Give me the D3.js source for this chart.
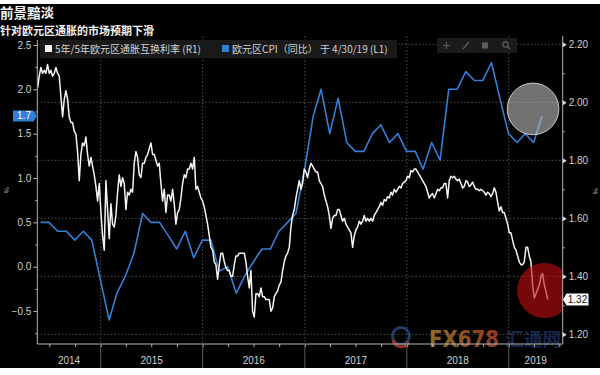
<!DOCTYPE html>
<html><head><meta charset="utf-8">
<script src="https://cdn.jsdelivr.net/npm/d3@7"></script>
<style>html,body{margin:0;padding:0;background:#fff;} svg{display:block;}</style>
</head><body>
<svg id="chart" width="600" height="375"></svg>
<script>
// ---------- DATA ----------
const titleText = "前景黯淡";
const subtitleText = "针对欧元区通胀的市场预期下滑";
const legendLabels = ["5年/5年欧元区通胀互换利率 (R1)", "欧元区CPI（同比） 于 4/30/19 (L1)"];
const years = [2014, 2015, 2016, 2017, 2018, 2019];
const leftTicks = [-0.5, 0, 0.5, 1, 1.5, 2, 2.5];
const rightTicks = [1.2, 1.4, 1.6, 1.8, 2.0, 2.2];
const lastCpi = 1.7;
const lastSwap = 1.32;

// Euro area CPI YoY, monthly from 2014-05 to 2019-04 (left axis)
const cpiStartMonth = "2014-05";
const cpiValues = [
  0.5, 0.5, 0.4, 0.4, 0.3, 0.4, 0.3, -0.15,
  -0.6, -0.3, -0.1, 0.15, 0.6, 0.5, 0.5, 0.35, 0.2, 0.4, 0.1, 0.3,
  0.3, -0.05, 0.0, -0.3, -0.1, 0.05, 0.2, 0.2, 0.4, 0.5, 0.6, 1.1,
  1.7, 2.0, 1.5, 1.9, 1.4, 1.3, 1.3, 1.5, 1.6, 1.4, 1.5, 1.3,
  1.3, 1.1, 1.4, 1.2, 2.0, 2.0, 2.2, 2.1, 2.1, 2.3, 1.9, 1.5,
  1.4, 1.5, 1.4, 1.7
];

// 5y5y euro inflation swap, evenly spaced readings 2014-05-20 .. 2019-05-20 (right axis)
const swapStart = "2014-05-20";
const swapEnd = "2019-05-20";
const swapValues = [
  2.05,2.09,2.12,2.10,2.11,2.10,2.13,2.10,2.11,2.09,
  2.10,2.12,2.10,2.09,2.02,1.95,2.01,2.04,2.01,1.95,
  1.93,1.93,1.90,1.89,1.83,1.73,1.82,1.86,1.85,1.88,
  1.82,1.78,1.81,1.78,1.75,1.71,1.66,1.72,1.62,1.54,
  1.49,1.73,1.63,1.53,1.65,1.58,1.57,1.61,1.69,1.75,
  1.71,1.74,1.72,1.63,1.69,1.68,1.70,1.69,1.79,1.83,
  1.81,1.75,1.74,1.79,1.79,1.81,1.82,1.84,1.86,1.82,
  1.82,1.80,1.78,1.79,1.72,1.66,1.70,1.62,1.68,1.68,
  1.66,
  1.70,1.65,1.58,1.62,1.63,1.67,1.72,1.75,1.74,1.77,
  1.77,1.79,1.77,1.81,1.70,1.71,1.69,1.67,1.66,1.64,
  1.61,1.58,1.54,1.50,1.49,1.45,1.44,1.39,1.44,1.48,
  1.48,1.45,1.43,1.42,1.42,1.40,1.40,1.44,1.47,1.47,
  1.48,1.48,1.48,1.48,1.45,1.40,1.36,1.42,1.28,1.26,
  1.34,1.34,1.33,1.36,1.33,1.33,1.32,1.32,1.32,1.28,
  1.29,1.33,1.34,1.35,1.37,1.38,1.42,1.45,1.47,1.48,
  1.50,1.57,1.61,1.63,1.67,1.70,1.73,
  1.70,1.72,1.77,1.76,1.74,1.77,1.79,1.78,1.77,1.76,
  1.76,1.73,1.72,1.71,1.68,1.66,1.64,1.61,1.565,1.60,
  1.61,1.61,1.63,1.63,1.61,1.59,1.60,1.58,1.57,1.56,
  1.55,1.50,1.54,1.56,1.57,1.59,1.58,1.59,1.61,1.59,
  1.60,1.59,1.60,1.59,1.61,1.62,1.63,1.64,1.655,1.645,
  1.665,1.66,1.675,1.67,1.69,1.68,1.70,1.69,1.70,1.71,
  1.705,1.72,1.725,1.73,1.745,1.74,1.765,1.76,1.77,1.77,
  1.76,1.75,1.74,1.73,1.72,1.71,1.69,1.67,
  1.68,1.685,1.67,1.685,1.70,1.695,1.705,1.705,1.72,1.72,
  1.67,1.73,1.745,1.74,1.745,1.735,1.73,1.735,1.72,1.705,
  1.71,1.73,1.725,1.71,1.715,1.725,1.71,1.70,1.70,1.695,
  1.70,1.695,1.69,1.68,1.69,1.685,1.675,1.685,1.705,1.69,
  1.657,1.625,1.64,1.62,1.62,1.60,1.58,1.55,1.55,1.525,
  1.50,1.49,1.47,1.45,1.44,1.44,1.45,1.50,1.50,1.47,
  1.45,1.37,1.325,1.34,1.355,1.37,1.40,1.41,1.37,1.35,
  1.32
];

// ---------- BUILD ----------
const parse = d3.timeParse("%Y-%m-%d");
const parseM = d3.timeParse("%Y-%m");
const cpiData = cpiValues.map((v, i) => ({
  date: d3.timeDay.offset(d3.timeMonth.offset(parseM(cpiStartMonth), i + 1), -1), value: v }));
const s0 = parse(swapStart), s1 = parse(swapEnd);
const swapData = swapValues.map((v, i) => ({
  date: new Date(+s0 + (s1 - s0) * i / (swapValues.length - 1)), value: v }));

const W = 600, H = 375;
const L = 37.3, R = 562.7, T = 36, B = 344;
const svg = d3.select("#chart");
const font = "'Liberation Sans', Arial, sans-serif";
const cjk = "'Noto Sans CJK SC', 'Liberation Sans', sans-serif";

svg.append("rect").attr("x", 0).attr("y", 0).attr("width", W).attr("height", H).attr("fill", "#fff");
svg.append("rect").attr("x", 0).attr("y", 4).attr("width", W).attr("height", 364).attr("fill", "#000");

const x = d3.scaleTime().domain([parse("2014-05-19"), parse("2019-07-13")]).range([L, R]);
const yL = d3.scaleLinear().domain([-0.8715, 2.601]).range([B, T]);
const yR = d3.scaleLinear().domain([1.1667, 2.2286]).range([B, T]);

// gridlines
const grid = svg.append("g");
grid.selectAll("line.h").data(rightTicks).join("line")
  .attr("x1", L).attr("x2", R).attr("y1", d => yR(d)).attr("y2", d => yR(d))
  .attr("stroke", "#505050").attr("stroke-width", 1).attr("stroke-dasharray", "1.5,2");
const yearStarts = years.slice(1).map(y => new Date(y, 0, 1));
grid.selectAll("line.v").data(yearStarts).join("line")
  .attr("x1", d => x(d)).attr("x2", d => x(d)).attr("y1", T).attr("y2", B)
  .attr("stroke", "#505050").attr("stroke-width", 1).attr("stroke-dasharray", "1.5,2");

// title
svg.append("text").attr("x", 0).attr("y", 17.5).text(titleText)
  .attr("font-family", cjk).attr("font-size", 13.5).attr("font-weight", "bold").attr("fill", "#f2f2f2");
svg.append("text").attr("x", 0).attr("y", 34.5).text(subtitleText)
  .attr("font-family", cjk).attr("font-size", 11).attr("font-weight", "bold").attr("fill", "#f2f2f2");

// watermark (behind the data)
const defs = svg.append("defs");
const gr = defs.append("linearGradient").attr("id", "wm").attr("x1", "0").attr("x2", "1").attr("y1", "0").attr("y2", "0");
gr.append("stop").attr("offset", "0%").attr("stop-color", "#b8902e");
gr.append("stop").attr("offset", "100%").attr("stop-color", "#c44a2a");
const wm = svg.append("g").attr("opacity", 0.75);
wm.append("circle").attr("cx", 401).attr("cy", 336).attr("r", 8.5).attr("fill", "none").attr("stroke", "#2c4f8a").attr("stroke-width", 3);
wm.append("path").attr("d", "M393,340 A8.5,8.5 0 0,0 409,342").attr("fill", "none").attr("stroke", "#c0442a").attr("stroke-width", 3);
wm.append("text").attr("x", 429).attr("y", 347).text("FX678")
  .attr("font-family", "'DejaVu Sans', sans-serif").attr("font-weight", "bold").attr("font-size", 23)
  .attr("textLength", 70).attr("lengthAdjust", "spacingAndGlyphs").attr("fill", "url(#wm)");
wm.append("text").attr("x", 505).attr("y", 346).text("汇通网")
  .attr("font-family", cjk).attr("font-weight", "bold").attr("font-size", 18)
  .attr("textLength", 56).attr("lengthAdjust", "spacingAndGlyphs").attr("fill", "#1f3d74").attr("opacity", 0.85);

// clip
svg.append("clipPath").attr("id", "plotclip").append("rect")
  .attr("x", L).attr("y", T).attr("width", R - L).attr("height", B - T);
const plot = svg.append("g").attr("clip-path", "url(#plotclip)");

// lines
plot.append("path").datum(cpiData)
  .attr("d", d3.line().x(d => x(d.date)).y(d => yL(d.value)))
  .attr("fill", "none").attr("stroke", "#2f80d6").attr("stroke-width", 1.6).attr("stroke-linejoin", "round");
plot.append("path").datum(swapData)
  .attr("d", d3.line().x(d => x(d.date)).y(d => yR(d.value)))
  .attr("fill", "none").attr("stroke", "#f4f4f4").attr("stroke-width", 1.5).attr("stroke-linejoin", "round");

// highlight circles
const lastC = cpiData[cpiData.length - 1], lastS = swapData[swapData.length - 1];
plot.append("circle").attr("cx", x(lastC.date) - 9).attr("cy", yL(lastC.value) - 7).attr("r", 25.8)
  .attr("fill", "rgba(190,190,190,0.6)").attr("stroke", "#c8c8c8").attr("stroke-width", 1);
plot.append("circle").attr("cx", x(lastS.date) - 3).attr("cy", yR(lastS.value) - 9).attr("r", 27.5)
  .attr("fill", "rgba(200,12,16,0.6)");

// axes
const axisColor = "#b4b4b4", labColor = "#cfcfcf";
function styleAxis(g) {
  g.select(".domain").remove();
  g.selectAll("line").attr("stroke", axisColor);
  g.selectAll("text").attr("fill", labColor).attr("font-family", font).attr("font-size", 10);
}
const gL = svg.append("g").attr("transform", `translate(${L},0)`)
  .call(d3.axisLeft(yL).tickValues(leftTicks).tickSize(4).tickPadding(2).tickFormat(d3.format(".1f")));
styleAxis(gL);
const gLm = svg.append("g").attr("transform", `translate(${L},0)`)
  .call(d3.axisLeft(yL).tickValues(leftTicks.slice(0, -1).map(d => d + 0.25).concat([-0.75])).tickSize(2).tickFormat(""));
styleAxis(gLm);

const gR = svg.append("g").attr("transform", `translate(${R},0)`)
  .call(d3.axisRight(yR).tickValues(rightTicks).tickSize(0).tickPadding(6).tickFormat(d3.format(".2f")));
styleAxis(gR);
gR.selectAll(".tick").append("path").attr("d", "M0,-2.5L4,0L0,2.5Z").attr("fill", "#e0e0e0");
const gRm = svg.append("g").attr("transform", `translate(${R},0)`)
  .call(d3.axisRight(yR).tickValues(rightTicks.slice(0, -1).map(d => d + 0.1)).tickSize(2).tickFormat(""));
styleAxis(gRm);

const gB = svg.append("g").attr("transform", `translate(0,${B})`)
  .call(d3.axisBottom(x).ticks(d3.timeMonth.every(3)).tickSize(3).tickFormat(""));
styleAxis(gB);

// axis lines
svg.append("line").attr("x1", L).attr("x2", L).attr("y1", 40).attr("y2", B).attr("stroke", axisColor);
svg.append("line").attr("x1", R).attr("x2", R).attr("y1", T).attr("y2", B).attr("stroke", axisColor);
svg.append("line").attr("x1", L).attr("x2", R).attr("y1", B).attr("y2", B).attr("stroke", axisColor);

// year separators and labels
svg.selectAll("line.ysep").data(yearStarts).join("line")
  .attr("x1", d => x(d)).attr("x2", d => x(d)).attr("y1", B).attr("y2", 368)
  .attr("stroke", "#5a5a5a");
const [d0, d1] = x.domain();
svg.selectAll("text.year").data(years).join("text")
  .attr("x", y => {
    const a = Math.max(+new Date(y, 0, 1), +d0), b = Math.min(+new Date(y + 1, 0, 1), +d1);
    return (x(new Date(a)) + x(new Date(b))) / 2;
  })
  .attr("y", 364).attr("text-anchor", "middle").text(d => d)
  .attr("fill", labColor).attr("font-family", font).attr("font-size", 10);

// unit labels
svg.append("text").attr("transform", "translate(4,190) rotate(90)").text("%")
  .attr("fill", "#9a9a9a").attr("font-family", font).attr("font-size", 7).attr("text-anchor", "middle");
svg.append("text").attr("transform", "translate(593,191) rotate(90)").text("%")
  .attr("fill", "#9a9a9a").attr("font-family", font).attr("font-size", 7).attr("text-anchor", "middle");

// last-value flags
const yc = yL(lastCpi);
svg.append("path").attr("d", `M13,${yc - 5.5}H33.5L37,${yc}L33.5,${yc + 5.5}H13Z`).attr("fill", "#2f80d6");
svg.append("text").attr("x", 24).attr("y", yc + 3.5).attr("text-anchor", "middle").text(d3.format(".1f")(lastCpi))
  .attr("fill", "#fff").attr("font-family", font).attr("font-size", 10);
const ys = yR(lastSwap);
svg.append("path").attr("d", `M563,${ys}L566.5,${ys - 6}H588.5V${ys + 6}H566.5Z`).attr("fill", "#fafafa");
svg.append("text").attr("x", 577.5).attr("y", ys + 3.5).attr("text-anchor", "middle").text(d3.format(".2f")(lastSwap))
  .attr("fill", "#111").attr("font-family", font).attr("font-size", 10);

// legend
svg.append("rect").attr("x", 40).attr("y", 40).attr("width", 357).attr("height", 18).attr("fill", "#191919");
svg.append("rect").attr("x", 45).attr("y", 45).attr("width", 7).attr("height", 7).attr("fill", "#f4f4f4");
svg.append("text").attr("x", 55).attr("y", 53).text(legendLabels[0])
  .attr("fill", "#d2d2d2").attr("font-family", cjk).attr("font-size", 10);
svg.append("rect").attr("x", 222).attr("y", 45).attr("width", 7).attr("height", 7).attr("fill", "#2f80d6");
svg.append("text").attr("x", 232).attr("y", 53).text(legendLabels[1])
  .attr("fill", "#d2d2d2").attr("font-family", cjk).attr("font-size", 10);

// toolbar
const tb = svg.append("g");
tb.append("rect").attr("x", 437).attr("y", 38).attr("width", 80).attr("height", 15).attr("fill", "#1b1b1b");
const ic = "#5c5c5c";
tb.append("path").attr("d", "M443,45.5H450M446.5,42V49").attr("stroke", ic).attr("stroke-width", 1.2);
tb.append("path").attr("d", "M463,49L469,42").attr("stroke", ic).attr("stroke-width", 1.4);
tb.append("rect").attr("x", 482).attr("y", 42.5).attr("width", 6).attr("height", 6).attr("fill", ic);
tb.append("circle").attr("cx", 505.5).attr("cy", 44.5).attr("r", 2.6).attr("fill", "none").attr("stroke", ic).attr("stroke-width", 1.2);
tb.append("path").attr("d", "M507.5,46.5L510,49").attr("stroke", ic).attr("stroke-width", 1.4);
</script>
</body></html>
